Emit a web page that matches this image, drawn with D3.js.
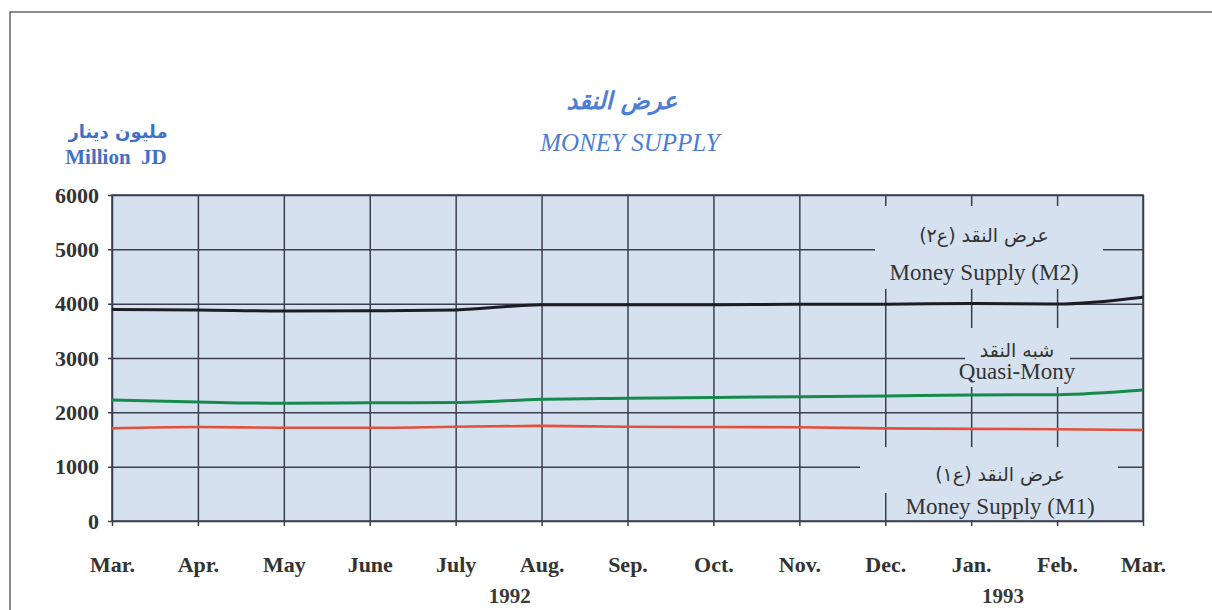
<!DOCTYPE html>
<html lang="en">
<head>
<meta charset="UTF-8">
<title>Money Supply</title>
<script src="https://d3js.org/d3.v7.min.js"></script>
<style>
    body { margin: 0; background: #fff; }
    svg { display: block; }
    .tick text { font-family: "Liberation Serif", serif; font-weight: bold; fill: #333; }
</style>
</head>
<body>
<div id="chart"></div>
<script>
    // data (million JD)
    const months = ["Mar.", "Apr.", "May", "June", "July", "Aug.", "Sep.", "Oct.", "Nov.", "Dec.", "Jan.", "Feb.", "Mar. "];
    const m2 = [3895, 3885, 3865, 3870, 3885, 3980, 3980, 3980, 3990, 3990, 4005, 3995, 4120];
    const quasi = [2225, 2190, 2165, 2175, 2180, 2240, 2260, 2275, 2285, 2300, 2320, 2325, 2410];
    const m1 = [1705, 1730, 1715, 1715, 1735, 1750, 1735, 1730, 1725, 1705, 1695, 1690, 1675];
    const yTicks = [0, 1000, 2000, 3000, 4000, 5000, 6000];
    const years = [{ label: "1992", at: 4.63 }, { label: "1993", at: 10.37 }];

    const W = 1212, H = 610;
    const pLeft = 112, pRight = 1143, pTop = 195, pBottom = 521;

    const svg = d3.select("#chart").append("svg")
        .attr("width", W).attr("height", H);

    // page frame
    svg.append("path")
        .attr("d", `M10,${H} V12 H${W}`)
        .attr("fill", "none").attr("stroke", "#666").attr("stroke-width", 1.5);

    const x = d3.scalePoint().domain(d3.range(months.length)).range([pLeft, pRight]);
    const y = d3.scaleLinear().domain([0, 6000]).range([pBottom, pTop]);

    // plot background
    svg.append("rect")
        .attr("x", pLeft).attr("y", pTop)
        .attr("width", pRight - pLeft).attr("height", pBottom - pTop)
        .attr("fill", "#d6e1ef");

    // grid + ticks via axes
    const yAxis = svg.append("g")
        .attr("transform", `translate(${pRight},0)`)
        .call(d3.axisLeft(y).tickValues(yTicks).tickFormat(d3.format("d"))
            .tickSize(pRight - pLeft + 4).tickPadding(9).tickSizeOuter(0));
    yAxis.select(".domain").remove();
    yAxis.selectAll("line").attr("stroke", "#3b3e4e").attr("stroke-width", 1.5);
    yAxis.selectAll("text").style("font-size", "22px").attr("dy", "0.33em");

    const xAxis = svg.append("g")
        .attr("transform", `translate(0,${pTop})`)
        .call(d3.axisBottom(x).tickSize(pBottom - pTop + 5).tickPadding(30).tickSizeOuter(0)
            .tickFormat(i => months[i].trim()));
    xAxis.select(".domain").remove();
    xAxis.selectAll("line").attr("stroke", "#3b3e4e").attr("stroke-width", 1.5);
    xAxis.selectAll("text").style("font-size", "22px").attr("fill", "#3a3a3a");

    // plot border
    svg.append("rect")
        .attr("x", pLeft).attr("y", pTop)
        .attr("width", pRight - pLeft).attr("height", pBottom - pTop)
        .attr("fill", "none").attr("stroke", "#3b3e4e").attr("stroke-width", 1.5);

    // label masks (cover the grid behind the series names)
    const masks = [
        [875, 206, 228, 83],
        [965, 328, 105, 59],
        [860, 447, 258, 46],
        [892, 493, 210, 27]
    ];
    svg.append("g").selectAll("rect").data(masks).join("rect")
        .attr("x", d => d[0]).attr("y", d => d[1])
        .attr("width", d => d[2]).attr("height", d => d[3])
        .attr("fill", "#d6e1ef");

    // series
    const line = d3.line()
        .x((d, i) => x(i))
        .y(d => y(d))
        .curve(d3.curveMonotoneX);

    const series = [
        { values: m2, color: "#1c1c24", width: 3 },
        { values: quasi, color: "#168a4c", width: 3 },
        { values: m1, color: "#e2513d", width: 2.6 }
    ];
    svg.append("g").selectAll("path").data(series).join("path")
        .attr("d", d => line(d.values))
        .attr("fill", "none")
        .attr("stroke", d => d.color)
        .attr("stroke-width", d => d.width);

    // series names
    const names = [
        { ar: "عرض النقد (ع٢)", en: "Money Supply (M2)", cx: 984, arY: 242, enY: 280 },
        { ar: "شبه النقد", en: "Quasi-Mony", cx: 1017, arY: 357, enY: 379 },
        { ar: "عرض النقد (ع١)", en: "Money Supply (M1)", cx: 1000, arY: 481, enY: 514 }
    ];
    const nameG = svg.append("g").attr("fill", "#333");
    nameG.selectAll("text.ar").data(names).join("text")
        .attr("class", "ar")
        .attr("x", d => d.cx).attr("y", d => d.arY)
        .attr("text-anchor", "middle")
        .attr("direction", "rtl")
        .style("font-family", "'DejaVu Sans', sans-serif")
        .style("font-size", "19px")
        .text(d => d.ar);
    nameG.selectAll("text.en").data(names).join("text")
        .attr("class", "en")
        .attr("x", d => d.cx).attr("y", d => d.enY)
        .attr("text-anchor", "middle")
        .style("font-family", "'Liberation Serif', serif")
        .style("font-size", "23px")
        .text(d => d.en);

    // years under the month labels
    const xi = d3.scaleLinear().domain([0, months.length - 1]).range([pLeft, pRight]);
    svg.append("g").selectAll("text").data(years).join("text")
        .attr("x", d => xi(d.at)).attr("y", 603)
        .attr("text-anchor", "middle")
        .attr("fill", "#3a3a3a")
        .style("font-family", "'Liberation Serif', serif")
        .style("font-weight", "bold")
        .style("font-size", "21px")
        .text(d => d.label);

    // titles
    svg.append("text")
        .attr("x", 622).attr("y", 109)
        .attr("text-anchor", "middle")
        .attr("direction", "rtl")
        .attr("fill", "#4d7dd4")
        .style("font-family", "'DejaVu Sans', sans-serif")
        .style("font-weight", "bold")
        .style("font-style", "italic")
        .style("font-size", "24px")
        .text("عرض النقد");
    svg.append("text")
        .attr("x", 630).attr("y", 151)
        .attr("text-anchor", "middle")
        .attr("fill", "#4d7dd4")
        .style("font-family", "'Liberation Serif', serif")
        .style("font-style", "italic")
        .style("font-size", "25px")
        .text("MONEY SUPPLY");

    // unit label
    svg.append("text")
        .attr("x", 118).attr("y", 138)
        .attr("text-anchor", "middle")
        .attr("direction", "rtl")
        .attr("fill", "#4270c6")
        .style("font-family", "'DejaVu Sans', sans-serif")
        .style("font-weight", "bold")
        .style("font-size", "18px")
        .text("مليون دينار");
    svg.append("text")
        .attr("x", 116).attr("y", 164)
        .attr("text-anchor", "middle")
        .attr("fill", "#4270c6")
        .style("font-family", "'Liberation Serif', serif")
        .style("font-weight", "bold")
        .style("font-size", "21px")
        .style("white-space", "pre")
        .text("Million  JD");
</script>
</body>
</html>
